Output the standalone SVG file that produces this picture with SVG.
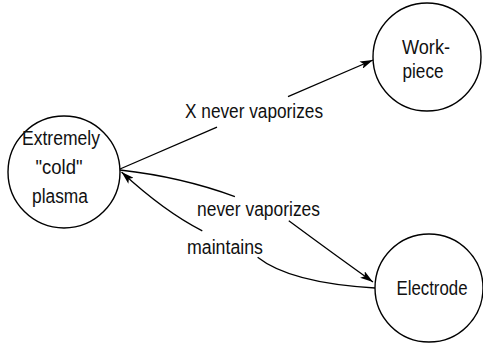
<svg xmlns="http://www.w3.org/2000/svg" width="483" height="346" viewBox="0 0 483 346">
  <defs>
    <style>
      .node circle { fill: #fff; stroke: #000; stroke-width: 1.4; }
      .label { font-family: "Liberation Sans", Arial, sans-serif; font-size: 20px; fill: #111; text-anchor: middle; }
      .edge { fill: none; stroke: #000; stroke-width: 1.3; }
    </style>
    <marker id="arrow" viewBox="0 0 13 8" refX="13" refY="4" markerWidth="13" markerHeight="8" markerUnits="userSpaceOnUse" orient="auto">
      <path d="M0,0 L13,4 L0,8 L3,4 z" fill="#000"/>
    </marker>
  </defs>

  <rect width="483" height="346" fill="#fff"/>

  <!-- connectors (each broken where its label sits) -->
  <g id="connectors">
    <!-- plasma -> workpiece -->
    <line class="edge" x1="120" y1="169" x2="217" y2="127.2"/>
    <line class="edge" x1="288" y1="96.6" x2="373" y2="60" marker-end="url(#arrow)"/>
    <text class="label" x="254" y="118" textLength="138" lengthAdjust="spacingAndGlyphs">X never vaporizes</text>

    <!-- plasma -> electrode -->
    <path class="edge" d="M120,170 Q182,177 234.9,196.6"/>
    <path class="edge" d="M288.8,220.8 Q335,255 373,282" marker-end="url(#arrow)"/>
    <text class="label" x="258.5" y="216" textLength="123" lengthAdjust="spacingAndGlyphs">never vaporizes</text>

    <!-- electrode -> plasma -->
    <path class="edge" d="M375,288 Q290,283 257.6,257.3"/>
    <path class="edge" d="M202.3,230.8 Q165,212 121.5,172" marker-end="url(#arrow)"/>
    <text class="label" x="225" y="254" textLength="76" lengthAdjust="spacingAndGlyphs">maintains</text>
  </g>

  <!-- nodes -->
  <g id="node-plasma" class="node">
    <circle cx="64" cy="172" r="56"/>
    <text class="label" x="61" y="145" textLength="78" lengthAdjust="spacingAndGlyphs">Extremely</text>
    <text class="label" x="59" y="174" textLength="47" lengthAdjust="spacingAndGlyphs">"cold"</text>
    <text class="label" x="60" y="203" textLength="56" lengthAdjust="spacingAndGlyphs">plasma</text>
  </g>

  <g id="node-workpiece" class="node">
    <circle cx="427" cy="57" r="54"/>
    <text class="label" x="426" y="54" textLength="48" lengthAdjust="spacingAndGlyphs">Work-</text>
    <text class="label" x="423" y="78" textLength="41" lengthAdjust="spacingAndGlyphs">piece</text>
  </g>

  <g id="node-electrode" class="node">
    <circle cx="429" cy="288" r="54"/>
    <text class="label" x="432" y="295" textLength="71" lengthAdjust="spacingAndGlyphs">Electrode</text>
  </g>
</svg>
